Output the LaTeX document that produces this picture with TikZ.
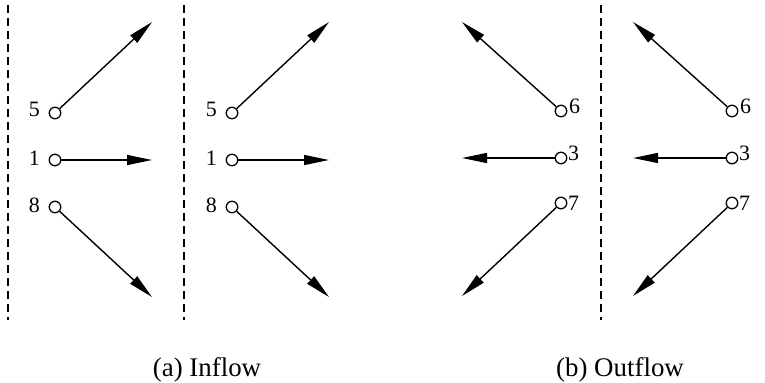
\documentclass[tikz,border=0pt]{standalone}
\usepackage{fontspec}
\setmainfont{Liberation Serif}
\usetikzlibrary{arrows.meta}
\begin{document}
\begin{tikzpicture}[x=1bp,y=-1bp,
  port/.style={circle,draw,line width=1.3bp,minimum size=11.5bp,inner sep=0pt},
  flow/.style={line width=1.4bp,-{Triangle[length=25bp,width=10bp]}},
  wall/.style={line width=1.4bp,dash pattern=on 8bp off 5bp},
  lab/.style={font=\fontsize{22}{22}\selectfont,inner sep=0pt},
  caption/.style={font=\fontsize{27}{27}\selectfont,inner sep=0pt,anchor=base}]
\useasboundingbox (0,0) rectangle (765,382);
% walls
\foreach \wx/\wn in {8/w1,184/w2,601/w3}{
  \coordinate (\wn t) at (\wx,5);
  \coordinate (\wn b) at (\wx,320);
  \draw[wall] (\wn t) -- (\wn b);
}
% inflow panels
\foreach \ox/\p in {0/a,177/b}{
  \node[port] (\p5) at (55+\ox,113) {};
  \node[port] (\p1) at (55+\ox,160) {};
  \node[port] (\p8) at (55+\ox,207) {};
  \node[lab,anchor=base east] (\p l5) at (40+\ox,116) {5};
  \node[lab,anchor=base east] (\p l1) at (40+\ox,165) {1};
  \node[lab,anchor=base east] (\p l8) at (40+\ox,212) {8};
  \coordinate (\p t5) at (152+\ox,22);
  \coordinate (\p t1) at (152+\ox,160);
  \coordinate (\p t8) at (152+\ox,297);
  \draw[flow] (\p5) -- (\p t5);
  \draw[flow] (\p1) -- (\p t1);
  \draw[flow] (\p8) -- (\p t8);
}
% outflow panels
\foreach \ox/\p in {0/c,171/d}{
  \node[port] (\p6) at (561+\ox,111) {};
  \node[port] (\p3) at (561+\ox,158) {};
  \node[port] (\p7) at (561+\ox,203) {};
  \node[lab,anchor=base west] (\p l6) at (569+\ox,113) {6};
  \node[lab,anchor=base west] (\p l3) at (568+\ox,160) {3};
  \node[lab,anchor=base west] (\p l7) at (568+\ox,210) {7};
  \coordinate (\p t6) at (462+\ox,22);
  \coordinate (\p t3) at (462+\ox,158);
  \coordinate (\p t7) at (462+\ox,296);
  \draw[flow] (\p6) -- (\p t6);
  \draw[flow] (\p3) -- (\p t3);
  \draw[flow] (\p7) -- (\p t7);
}
% captions
\node[caption] (capa) at (207,376) {(a) Inflow};
\node[caption] (capb) at (620,376) {(b) Outflow};
\end{tikzpicture}
\end{document}
